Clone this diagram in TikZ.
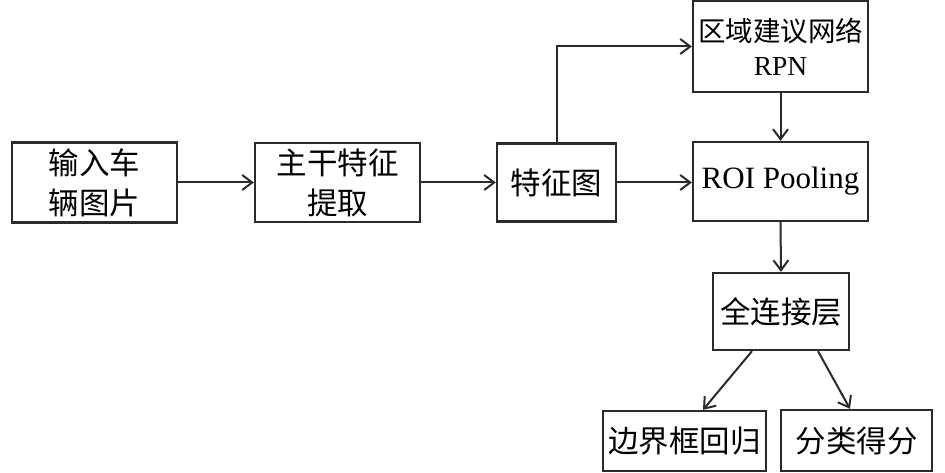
\documentclass[tikz,border=0pt]{standalone}
\usepackage{fontspec}
\setmainfont{Liberation Serif}
\newfontfamily\cjk{Noto Sans CJK SC}
\usetikzlibrary{arrows.meta,calc}
\definecolor{ln}{HTML}{2B2B2B}
\tikzset{
  box/.style={draw=ln, line width=2.3pt, fill=white, inner sep=0pt, align=center,
    font=\fontsize{30.5}{40}\selectfont\cjk, text=black},
  conn/.style={draw=ln, line width=2pt, -{Straight Barb[length=10pt,width=15pt,line width=2pt]}}
}
\begin{document}
\begin{tikzpicture}[x=1pt,y=1pt]
\useasboundingbox (0,0) rectangle (945,473);
\node[box, minimum width=165pt, minimum height=80pt] (in) at (94.5,290.5) {输入车\\辆图片};
\node[box, minimum width=165pt, minimum height=79pt] (bb) at (337.5,290.5) {主干特征\\提取};
\node[box, minimum width=119pt, minimum height=78pt] (fm) at (556.5,290.5) {特征图};
\node[box, minimum width=175pt, minimum height=91pt, font=\fontsize{27.5}{34}\selectfont\cjk] (rpn) at (780.5,426.5) {区域建议网络\\{\rmfamily RPN}};
\node[box, minimum width=175pt, minimum height=79pt, font=\fontsize{31}{36}\selectfont\rmfamily] (roi) at (780.5,291.5) {ROI Pooling};
\node[box, minimum width=136pt, minimum height=77pt] (fc) at (781,161.5) {全连接层};
\node[box, minimum width=163pt, minimum height=60pt] (reg) at (684.5,32) {边界框回归};
\node[box, minimum width=151pt, minimum height=61pt] (cls) at (856.5,32.5) {分类得分};

\draw[conn] (in.east) -- (bb.west);
\draw[conn] (bb.east) -- (fm.west);
\draw[conn] (fm.east) -- (fm.east -| roi.west);
\draw[conn] (fm.north) |- (rpn.west);
\draw[conn] (rpn.south) -- (roi.north);
\draw[conn] (roi.south) -- (fc.north);
\draw[conn] ($(fc.south)+(-29,0)$) -- ($(reg.north)+(18.5,0)$);
\draw[conn] ($(fc.south)+(37,0)$) -- ($(cls.north)+(-6.5,0)$);
\end{tikzpicture}
\end{document}
